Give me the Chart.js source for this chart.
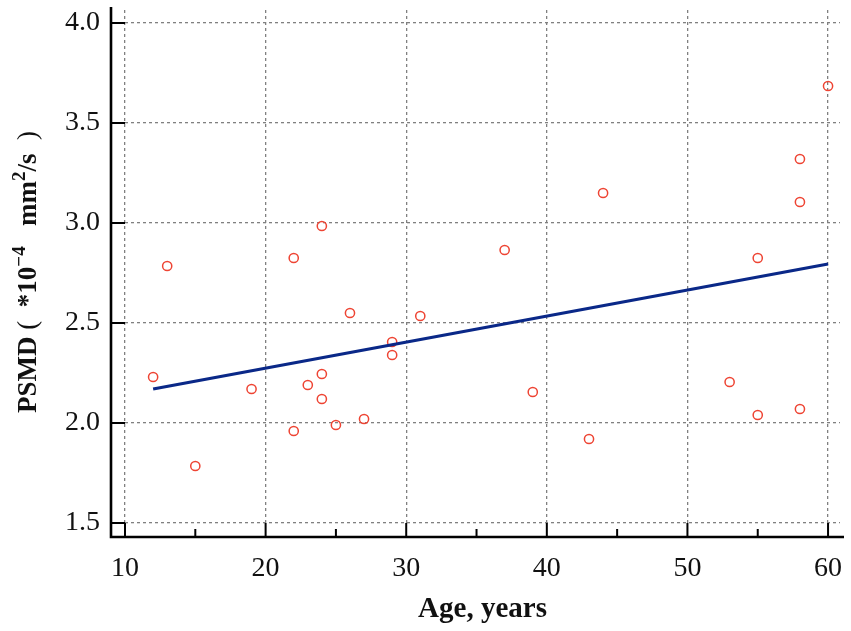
<!DOCTYPE html>
<html>
<head>
<meta charset="utf-8">
<script src="https://cdn.jsdelivr.net/npm/chart.js@4.4.1/dist/chart.umd.min.js"></script>
<style>
  html, body { margin: 0; padding: 0; background: #fff; }
  #wrap { width: 851px; height: 631px; }
</style>
</head>
<body>
<div id="wrap"><canvas id="chart"></canvas></div>
<script>
// age (years) and PSMD values
const ages = [12, 13, 15, 19, 22, 22, 23, 24, 24, 24, 25, 26, 27, 29, 29, 31, 37, 39, 43, 44, 53, 55, 55, 58, 58, 58, 60]
const psmd = [2.23, 2.785, 1.785, 2.17, 1.96, 2.825, 2.19, 2.245, 2.12, 2.985, 1.99, 2.55, 2.02, 2.405, 2.34, 2.535, 2.865, 2.155, 1.92, 3.15, 2.205, 2.04, 2.825, 2.07, 3.105, 3.32, 3.685]

// fitted regression line, ends
const fitX = [12, 60]
const fitY = [2.17, 2.795]

const xTicks = [10, 20, 30, 40, 50, 60]
const xMinorTicks = [15, 25, 35, 45, 55]
const yTicks = [1.5, 2.0, 2.5, 3.0, 3.5, 4.0]

const serif = '"Liberation Serif", "Times New Roman", serif'

// axis lines sit a little away from the plot area, ticks point inward
const offsetAxes = {
  id: 'offsetAxes',
  afterDraw(chart) {
    const ctx = chart.ctx
    const area = chart.chartArea
    const xs = chart.scales.x
    const ys = chart.scales.y
    const gap = 14
    const ax = area.left - gap
    const ay = area.bottom + gap
    ctx.save()
    ctx.strokeStyle = '#000'
    ctx.lineWidth = 2.6
    ctx.beginPath()
    ctx.moveTo(ax, area.top - 3)
    ctx.lineTo(ax, ay)
    ctx.lineTo(area.right + 4, ay)
    ctx.stroke()

    ctx.lineWidth = 2
    ctx.beginPath()
    xTicks.forEach(v => {
      const px = xs.getPixelForValue(v)
      ctx.moveTo(px, ay)
      ctx.lineTo(px, area.bottom)
    })
    xMinorTicks.forEach(v => {
      const px = xs.getPixelForValue(v)
      ctx.moveTo(px, ay)
      ctx.lineTo(px, ay - 8)
    })
    yTicks.forEach(v => {
      const py = ys.getPixelForValue(v)
      ctx.moveTo(ax, py)
      ctx.lineTo(area.left, py)
    })
    ctx.stroke()
    ctx.restore()
  }
}

// y title has superscripts and mixed weights, so draw it by hand
const yTitle = {
  id: 'yTitle',
  afterDraw(chart) {
    const ctx = chart.ctx
    const parts = [
      { t: 'PSMD ', b: true },
      { t: '(  ', b: false },
      { t: '*10', b: true },
      { t: '\u22124', b: true, sup: true },
      { t: '   mm', b: true },
      { t: '2', b: true, sup: true },
      { t: '/s  ', b: true },
      { t: ')', b: false }
    ]
    const fontOf = p => (p.b ? 'bold ' : '') + (p.sup ? '19px ' : '27px ') + serif
    let total = 0
    parts.forEach(p => {
      ctx.font = fontOf(p)
      p.w = ctx.measureText(p.t).width
      total += p.w
    })
    ctx.save()
    ctx.translate(36, 272)
    ctx.rotate(-Math.PI / 2)
    ctx.fillStyle = '#111'
    ctx.textBaseline = 'alphabetic'
    let x = -total / 2
    parts.forEach(p => {
      ctx.font = fontOf(p)
      ctx.fillText(p.t, x, p.sup ? -11 : 0)
      x += p.w
    })
    ctx.restore()
  }
}

const points = ages.map((a, i) => ({ x: a, y: psmd[i] }))
const fit = fitX.map((a, i) => ({ x: a, y: fitY[i] }))

new Chart(document.getElementById('chart'), {
  type: 'scatter',
  data: {
    datasets: [
      {
        type: 'line',
        data: fit,
        borderColor: '#0a2888',
        borderWidth: 3.3,
        pointRadius: 0,
        fill: false
      },
      {
        data: points,
        pointStyle: 'circle',
        pointRadius: 4.6,
        pointBorderWidth: 1.5,
        pointBorderColor: '#ee4433',
        pointBackgroundColor: 'rgba(0,0,0,0)'
      }
    ]
  },
  options: {
    responsive: true,
    maintainAspectRatio: false,
    animation: false,
    layout: { padding: { left: 0, right: 11, top: 10, bottom: 0 } },
    plugins: {
      legend: { display: false },
      tooltip: { enabled: false }
    },
    scales: {
      x: {
        type: 'linear',
        min: 10,
        max: 60.85,
        afterBuildTicks: s => { s.ticks = xTicks.map(v => ({ value: v })) },
        afterFit: s => {
          s.height = 108
          s.paddingLeft = 0
          s.paddingRight = 0
        },
        grid: { color: '#808080', lineWidth: 1.3, drawTicks: false },
        border: { display: false, dash: [3, 3] },
        ticks: {
          padding: 29,
          color: '#111',
          font: { family: serif, size: 28 },
          maxRotation: 0
        },
        title: {
          display: true,
          text: 'Age, years',
          color: '#111',
          font: { family: serif, size: 29, weight: 'bold' },
          padding: { top: 10 }
        }
      },
      y: {
        type: 'linear',
        min: 1.5,
        max: 4.065,
        afterBuildTicks: s => { s.ticks = yTicks.map(v => ({ value: v })) },
        afterFit: s => {
          s.width = 125
          s.paddingTop = 0
          s.paddingBottom = 0
        },
        grid: { color: '#808080', lineWidth: 1.3, drawTicks: false },
        border: { display: false, dash: [3, 3] },
        ticks: {
          padding: 25,
          color: '#111',
          font: { family: serif, size: 28 },
          callback: v => v.toFixed(1)
        }
      }
    }
  },
  plugins: [offsetAxes, yTitle]
})
</script>
</body>
</html>
